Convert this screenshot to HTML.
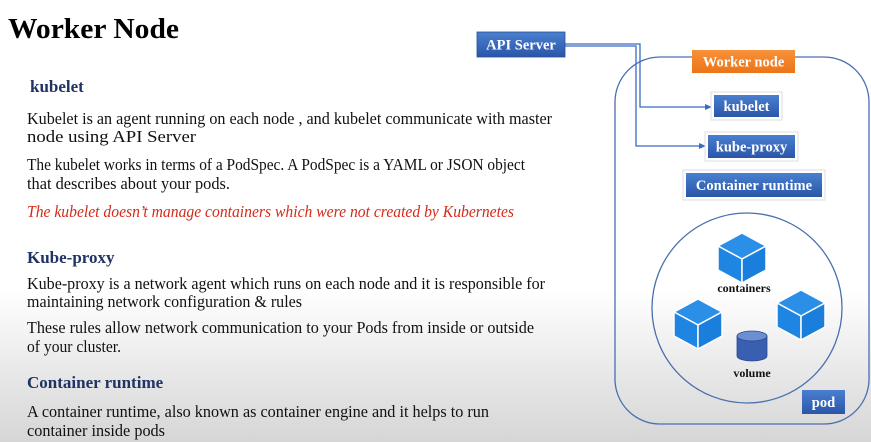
<!DOCTYPE html>
<html><head><meta charset="utf-8"><style>
html,body{margin:0;padding:0;}
body{width:871px;height:442px;overflow:hidden;background:linear-gradient(to bottom,#ffffff 0px,#ffffff 290px,#e6e6e6 380px,#d6d6d6 442px);}
svg{position:absolute;left:0;top:0;}
.t{font-family:"Liberation Serif",serif;}
.b{font-size:16.5px;fill:#111;}
.h{font-size:17px;font-weight:bold;fill:#1f3463;}
.bx{font-family:"Liberation Serif",serif;font-weight:bold;fill:#fff;font-size:14.5px;}
</style></head><body>
<svg width="871" height="442" viewBox="0 0 871 442">
<defs>
<linearGradient id="blu" x1="0" y1="0" x2="0" y2="1"><stop offset="0" stop-color="#4a7fd0"/><stop offset="1" stop-color="#2a56a8"/></linearGradient>
<linearGradient id="org" x1="0" y1="0" x2="0" y2="1"><stop offset="0" stop-color="#f7913a"/><stop offset="1" stop-color="#ec7418"/></linearGradient>
<marker id="ar" markerWidth="8" markerHeight="8" refX="7" refY="4" orient="auto" markerUnits="userSpaceOnUse"><path d="M0,1 L7,4 L0,7 z" fill="#3c6bc0"/></marker>
</defs>
<g class="t">
<text x="8" y="38" font-size="29" font-weight="bold" fill="#000" textLength="171" lengthAdjust="spacingAndGlyphs">Worker Node</text>
<text class="h" x="30" y="92">kubelet</text>
<text class="b" x="27" y="124" textLength="525" lengthAdjust="spacingAndGlyphs">Kubelet is an agent running on each node , and kubelet communicate with master</text>
<text class="b" x="27" y="142" textLength="169" lengthAdjust="spacingAndGlyphs">node using API Server</text>
<text class="b" x="27" y="170" textLength="498" lengthAdjust="spacingAndGlyphs">The kubelet works in terms of a PodSpec. A PodSpec is a YAML or JSON object</text>
<text class="b" x="27" y="189" textLength="203" lengthAdjust="spacingAndGlyphs">that describes about your pods.</text>
<text class="b" x="27" y="217" font-style="italic" style="fill:#d42a1a" textLength="487" lengthAdjust="spacingAndGlyphs">The kubelet doesn’t manage containers which were not created by Kubernetes</text>
<text class="h" x="27" y="263">Kube-proxy</text>
<text class="b" x="27" y="289" textLength="518" lengthAdjust="spacingAndGlyphs">Kube-proxy is a network agent which runs on each node and it is responsible for</text>
<text class="b" x="27" y="307" textLength="275" lengthAdjust="spacingAndGlyphs">maintaining network configuration &amp; rules</text>
<text class="b" x="27" y="333" textLength="507" lengthAdjust="spacingAndGlyphs">These rules allow network communication to your Pods from inside or outside</text>
<text class="b" x="27" y="352" textLength="94" lengthAdjust="spacingAndGlyphs">of your cluster.</text>
<text class="h" x="27" y="388">Container runtime</text>
<text class="b" x="27" y="417" textLength="462" lengthAdjust="spacingAndGlyphs">A container runtime, also known as container engine and it helps to run</text>
<text class="b" x="27" y="436" textLength="138" lengthAdjust="spacingAndGlyphs">container inside pods</text>
</g>
<rect x="615" y="57" width="254" height="367" rx="45" fill="none" stroke="#4a6fae" stroke-width="1.3"/>
<circle cx="747" cy="308" r="95" fill="none" stroke="#4a6fae" stroke-width="1.3"/>
<polyline points="565,44 640,44 640,107 712,107" fill="none" stroke="#3c6bc0" stroke-width="1.3" marker-end="url(#ar)"/>
<polyline points="565,46 636,46 636,146 706,146" fill="none" stroke="#3c6bc0" stroke-width="1.3" marker-end="url(#ar)"/>
<rect x="477" y="32" width="88" height="25" fill="url(#blu)" stroke="#2a4f90" stroke-width="0.8"/>
<text class="bx" x="521" y="49.5" text-anchor="middle">API Server</text>
<rect x="692" y="50" width="103" height="23" fill="url(#org)"/>
<text class="bx" x="743.5" y="66.5" text-anchor="middle">Worker node</text>
<rect x="711" y="92" width="71" height="28" fill="#fff" stroke="#ddd"/>
<rect x="714" y="95" width="65" height="22" fill="url(#blu)"/>
<text class="bx" x="746.5" y="111" text-anchor="middle">kubelet</text>
<rect x="705" y="132" width="93" height="29" fill="#fff" stroke="#ddd"/>
<rect x="708" y="135" width="87" height="23" fill="url(#blu)"/>
<text class="bx" x="751.5" y="151.5" text-anchor="middle">kube-proxy</text>
<rect x="683" y="170" width="142" height="30" fill="#fff" stroke="#ddd"/>
<rect x="686" y="173" width="136" height="24" fill="url(#blu)"/>
<text class="bx" x="754" y="190" text-anchor="middle">Container runtime</text>
<rect x="802" y="390" width="43" height="24" fill="url(#blu)"/>
<text class="bx" x="823.5" y="407" text-anchor="middle" font-size="15">pod</text>
<g stroke="#fff" stroke-width="1.5" stroke-linejoin="round">
<polygon points="742,233 766,246 742,259 718,246" fill="#2b8fe8"/>
<polygon points="718,246 742,259 742,283 718,270" fill="#1f85e2"/>
<polygon points="766,246 742,259 742,283 766,270" fill="#1a7fdc"/>
</g>
<g stroke="#fff" stroke-width="1.5" stroke-linejoin="round">
<polygon points="698,299 722,312 698,325 674,312" fill="#2b8fe8"/>
<polygon points="674,312 698,325 698,349 674,336" fill="#1f85e2"/>
<polygon points="722,312 698,325 698,349 722,336" fill="#1a7fdc"/>
</g>
<g stroke="#fff" stroke-width="1.5" stroke-linejoin="round">
<polygon points="801,290 825,303 801,316 777,303" fill="#2b8fe8"/>
<polygon points="777,303 801,316 801,340 777,327" fill="#1f85e2"/>
<polygon points="825,303 801,316 801,340 825,327" fill="#1a7fdc"/>
</g>
<path d="M737,336 L737,356 A15,5 0 0 0 767,356 L767,336 Z" fill="#3a5fb0" stroke="#2a4a90" stroke-width="0.8"/>
<ellipse cx="752" cy="336" rx="15" ry="5" fill="#6c8fd2" stroke="#2a4a90" stroke-width="0.8"/>
<text x="744" y="292" text-anchor="middle" font-family="Liberation Serif,serif" font-weight="bold" font-size="12" fill="#111">containers</text>
<text x="752" y="377" text-anchor="middle" font-family="Liberation Serif,serif" font-weight="bold" font-size="12" fill="#111">volume</text>
</svg>
</body></html>
